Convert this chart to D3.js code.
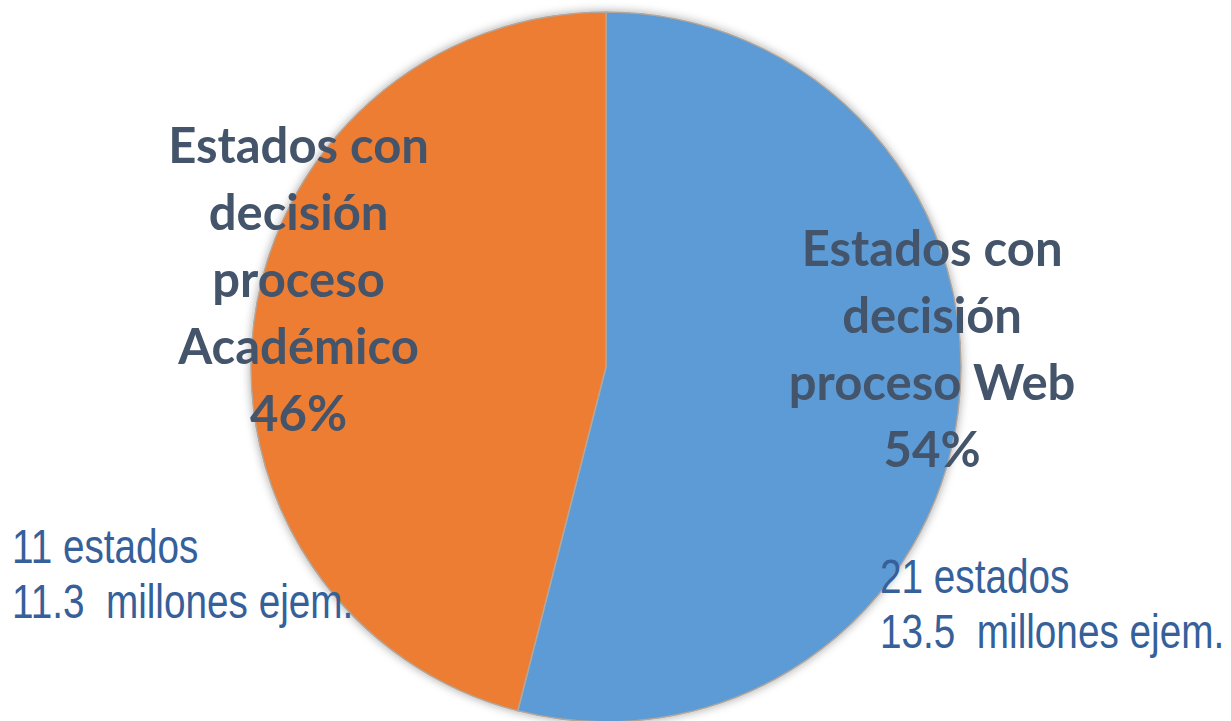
<!DOCTYPE html>
<html>
<head>
<meta charset="utf-8">
<script src="https://cdn.jsdelivr.net/npm/d3@7"></script>
<style>
  body { margin: 0; background: #fff; }
  svg { display: block; }
</style>
</head>
<body>
<svg id="chart"></svg>
<script>
// datos del gráfico
const categorias = ["Estados con decisión proceso Web", "Estados con decisión proceso Académico"];
const porcentajes = [54, 46];
const lineasEtiqueta = [
  ["Estados con", "decisión", "proceso Web", "54%"],
  ["Estados con", "decisión", "proceso", "Académico", "46%"]
];
const notas = [
  ["21 estados", "13.5  millones ejem."],
  ["11 estados", "11.3  millones ejem."]
];
const colores = ["#5B9BD5", "#ED7D31"];

const width = 1231, height = 721;
const cx = 606, cy = 367, radio = 355;

const svg = d3.select("#chart")
  .attr("width", width)
  .attr("height", height);

// sombra suave alrededor del pastel
const defs = svg.append("defs");
const f = defs.append("filter").attr("id", "sombra")
  .attr("x", "-10%").attr("y", "-10%").attr("width", "120%").attr("height", "120%");
f.append("feDropShadow")
  .attr("dx", 0).attr("dy", 0)
  .attr("stdDeviation", 5)
  .attr("flood-color", "#000")
  .attr("flood-opacity", 0.35);

const g = svg.append("g").attr("transform", `translate(${cx},${cy})`);

const pie = d3.pie().sort(null).value(d => d)(porcentajes);
const arc = d3.arc().innerRadius(0).outerRadius(radio);

g.append("g")
  .attr("filter", "url(#sombra)")
  .selectAll("path")
  .data(pie)
  .enter()
  .append("path")
  .attr("d", arc)
  .attr("fill", (d, i) => colores[i])
  .attr("stroke", "#b3a79d")
  .attr("stroke-width", 1.5);

// etiquetas dentro del pastel (ángulo medio + ajuste, radio)
const ajusteAngulo = [-0.18, 0.15];
const radioEtiqueta = [0.92, 0.9];
const altoLinea = 67;

pie.forEach((d, i) => {
  const a = (d.startAngle + d.endAngle) / 2 + ajusteAngulo[i];
  const r = radio * radioEtiqueta[i];
  const x = Math.sin(a) * r;
  const y = -Math.cos(a) * r;
  const lineas = lineasEtiqueta[i];
  const t = g.append("text")
    .attr("text-anchor", "middle")
    .style("font-family", "Lato, 'Open Sans', sans-serif")
    .style("font-weight", "bold")
    .style("font-size", "49px")
    .attr("fill", "#44546A");
  lineas.forEach((l, k) => {
    t.append("tspan")
      .attr("x", x)
      .attr("y", y + (k - (lineas.length - 1) / 2) * altoLinea + 17)
      .text(l);
  });
});

// notas laterales
const posNotas = [[880, 593], [12, 563]];
notas.forEach((n, i) => {
  const t = svg.append("text")
    .attr("transform", `translate(${posNotas[i][0]},${posNotas[i][1]}) scale(0.79,1)`)
    .style("font-family", "'Liberation Sans', Arial, sans-serif")
    .style("font-size", "49px")
    .style("white-space", "pre")
    .attr("fill", "#35609A");
  n.forEach((l, k) => {
    t.append("tspan").attr("x", 0).attr("y", k * 55).text(l);
  });
});
</script>
</body>
</html>
